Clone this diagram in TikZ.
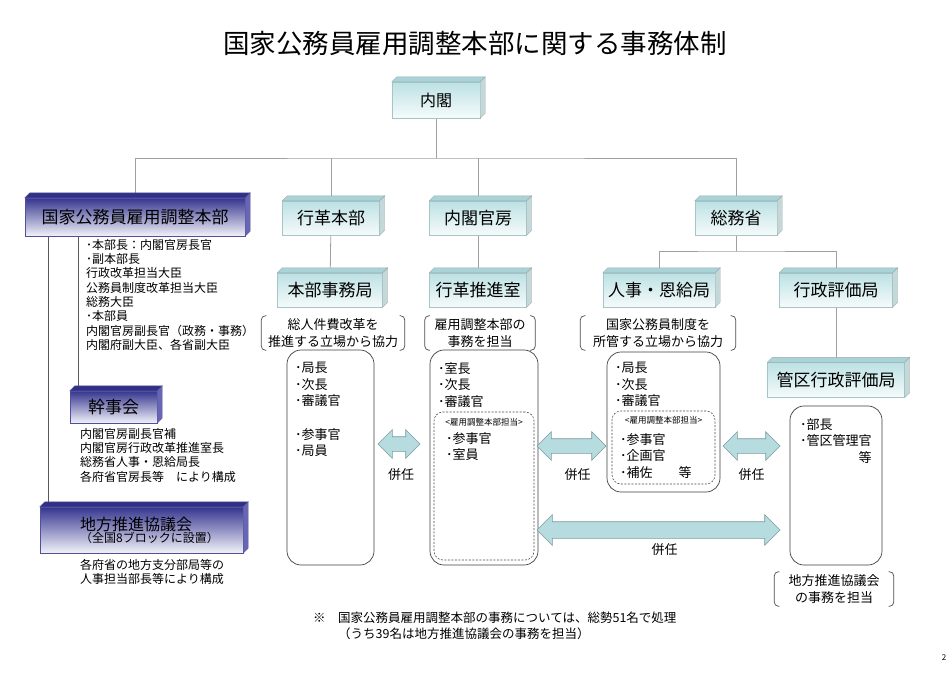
\documentclass[tikz,border=0pt]{standalone}
\usepackage{fontspec}
\setmainfont{Noto Sans CJK JP}
\usepackage{tikz}
\usetikzlibrary{positioning,backgrounds,shapes.arrows}

\definecolor{tealtop}{HTML}{BCE1E4}
\definecolor{tealbot}{HTML}{F6FBFB}
\definecolor{tealface}{HTML}{A9D3D7}
\definecolor{tealside}{HTML}{C4D8DA}
\definecolor{tealedge}{HTML}{A3C6C9}
\definecolor{navytop}{HTML}{35358F}
\definecolor{navybot}{HTML}{F2F2FA}
\definecolor{navyface}{HTML}{303088}
\definecolor{navyside}{HTML}{6666B5}
\definecolor{navyedge}{HTML}{5050A0}
\definecolor{arrowfill}{HTML}{B6DCDF}
\definecolor{arrowedge}{HTML}{7C9C9F}
\definecolor{treegray}{HTML}{A0A0A0}

\newcommand{\boxfaces}[3]{%
  \filldraw[draw=#3!80!black, fill=#2, line width=0.4pt] (#1.north west) -- ++(5,-5)
    -- ([shift={(5,-5)}]#1.north east) -- (#1.north east) -- cycle;
  \filldraw[draw=#3!80!black, fill=#3, line width=0.4pt] (#1.north east) -- ++(5,-5)
    -- ([shift={(5,-5)}]#1.south east) -- (#1.south east) -- cycle;}
\newcommand{\parens}[1]{%
  \draw[bracketline] ([xshift=5pt]#1.north west) -- (#1.north west) -- (#1.south west) -- ([xshift=5pt]#1.south west);
  \draw[bracketline] ([xshift=-5pt]#1.north east) -- (#1.north east) -- (#1.south east) -- ([xshift=-5pt]#1.south east);}

\tikzset{
  lightbox/.style={draw=tealedge, top color=tealtop, bottom color=tealbot, minimum height=34pt,
    inner sep=0pt, font=\fontsize{17}{20}\selectfont},
  darkbox/.style={draw=navyedge, top color=navytop, bottom color=navybot, inner sep=0pt,
    font=\fontsize{17}{20}\selectfont},
  treeline/.style={draw=treegray, line width=0.8pt},
  leftline/.style={draw=black!65, line width=0.8pt},
  bracketline/.style={draw=black!70, line width=0.7pt, rounded corners=4pt},
  bracketnote/.style={align=center, inner sep=0pt, minimum height=34pt, font=\fontsize{13}{17}\selectfont},
  staffbox/.style={draw=black!75, line width=0.7pt, rounded corners=14pt},
  subbox/.style={draw=black!70, line width=0.6pt, dash pattern=on 2pt off 1.5pt, rounded corners=9pt},
  stafftxt/.style={anchor=north west, align=left, inner sep=0pt, font=\fontsize{13}{16.5}\selectfont},
  smalltxt/.style={anchor=north west, align=left, inner sep=0pt, font=\fontsize{12}{14.3}\selectfont},
  tagtxt/.style={inner sep=0pt, font=\fontsize{8.5}{10}\selectfont},
  blockarrow/.style={double arrow, draw=arrowedge, fill=arrowfill, line width=0.6pt, inner sep=0pt,
    inner ysep=7pt, double arrow head extend=7pt, double arrow tip angle=90, minimum width=28pt},
  kennin/.style={inner sep=0pt, font=\fontsize{13}{15}\selectfont}
}

\begin{document}
\begin{tikzpicture}[x=1pt,y=-1pt]
\useasboundingbox (0,0) rectangle (950,672);

\node (title) at (475,43) {\fontsize{26.5}{30}\selectfont 国家公務員雇用調整本部に関する事務体制};

\node[lightbox, minimum width=88pt, minimum height=36pt, font=\fontsize{16}{19}\selectfont] (naikaku) at (436,100) {内閣};

\node[darkbox, minimum width=220pt, minimum height=38pt] (honbu) at (135,217) {国家公務員雇用調整本部};
\node[lightbox, minimum width=97pt] (gyokaku) at (331,218) {行革本部};
\node[lightbox, minimum width=97pt] (kanbo) at (478,218) {内閣官房};
\node[lightbox, minimum width=82pt] (somu) at (736,218) {総務省};

\node[lightbox, minimum width=105pt] (jimukyoku) at (330,290) {本部事務局};
\node[lightbox, minimum width=97pt] (suishin) at (478,290) {行革推進室};
\node[lightbox, minimum width=112pt] (jinji) at (659,290) {人事・恩給局};
\node[lightbox, minimum width=113pt] (hyoka) at (836,290) {行政評価局};
\node[lightbox, minimum width=137pt, minimum height=35pt] (kanku) at (836,380) {管区行政評価局};

\coordinate (bus) at (436,158);
\coordinate (bus2) at (736,251);

\begin{scope}[on background layer]
\fill[white] (0,0) rectangle (950,672);
\draw[treeline] (naikaku) -- (bus);
\draw[treeline] (honbu.north) |- (bus) -| (somu.north);
\draw[treeline] (jinji.north) |- (bus2) -| (hyoka.north);
\path[treeline] (gyokaku.north) edge (gyokaku.north |- bus)
                (kanbo.north) edge (kanbo.north |- bus)
                (somu) edge (bus2)
                (gyokaku) edge (jimukyoku)
                (kanbo) edge (suishin)
                (hyoka) edge (kanku);
\end{scope}

\boxfaces{naikaku}{tealface}{tealside}
\boxfaces{gyokaku}{tealface}{tealside}
\boxfaces{kanbo}{tealface}{tealside}
\boxfaces{somu}{tealface}{tealside}
\boxfaces{jimukyoku}{tealface}{tealside}
\boxfaces{suishin}{tealface}{tealside}
\boxfaces{jinji}{tealface}{tealside}
\boxfaces{hyoka}{tealface}{tealside}
\boxfaces{kanku}{tealface}{tealside}
\boxfaces{honbu}{navyface}{navyside}

\node[smalltxt] (honbulist) at (86,239) {･本部長：内閣官房長官\\ ･副本部長\\行政改革担当大臣\\公務員制度改革担当大臣\\総務大臣\\ ･本部員\\内閣官房副長官（政務・事務）\\内閣府副大臣、各省副大臣};

\node[darkbox, minimum width=87pt, minimum height=32pt] (kanjikai) at (113.5,407) {幹事会};
\boxfaces{kanjikai}{navyface}{navyside}
\node[smalltxt] (kanjikailist) at (80,428) {内閣官房副長官補\\内閣官房行政改革推進室長\\総務省人事・恩給局長\\各府省官房長等　により構成};

\node[darkbox, minimum width=203pt, minimum height=46pt] (chiho) at (141.5,530) {};
\boxfaces{chiho}{navyface}{navyside}
\node[anchor=west, align=left, inner sep=0pt] (chihoname) at (80,530) {{\fontsize{16}{19}\selectfont 地方推進協議会}\\{\fontsize{12}{14}\selectfont （全国8ブロックに設置）}};
\node[smalltxt] (chiholist) at (80,559) {各府省の地方支分部局等の\\人事担当部長等により構成};

\begin{scope}[on background layer]
\path[leftline] ([xshift=9pt]kanjikai.north west) edge ([xshift=9pt]kanjikai.north west |- honbu.south)
                ([xshift=9pt]chiho.north west) edge ([xshift=9pt]chiho.north west |- honbu.south);
\end{scope}

\node[bracketnote, minimum width=143pt] (noteA) at (333,333) {総人件費改革を\\推進する立場から協力};
\node[bracketnote, minimum width=110pt] (noteB) at (480,333) {雇用調整本部の\\事務を担当};
\node[bracketnote, minimum width=155pt] (noteC) at (658,333) {国家公務員制度を\\所管する立場から協力};
\node[bracketnote, minimum width=119pt] (noteD) at (834,589) {地方推進協議会\\の事務を担当};
\parens{noteA}
\parens{noteB}
\parens{noteC}
\parens{noteD}

\node[staffbox, minimum width=87pt, minimum height=215pt] (staffA) at (330.5,457.5) {};
\node[staffbox, minimum width=108pt, minimum height=215pt] (staffB) at (484,457.5) {};
\node[staffbox, minimum width=113pt, minimum height=140pt] (staffC) at (663.5,422) {};
\node[staffbox, minimum width=92pt, minimum height=159pt] (staffD) at (836,485.5) {};
\node[subbox, minimum width=100pt, minimum height=148pt] (subB) at (484,486) {};
\node[subbox, minimum width=103pt, minimum height=73pt] (subC) at (663.5,447.5) {};

\node[stafftxt] (listA) at (295,362) {･局長\\･次長\\･審議官\\[17pt]･参事官\\･局員};
\node[stafftxt] (listB) at (438,362) {･室長\\･次長\\･審議官};
\node[tagtxt] (tagB) at (484,422) {<雇用調整本部担当>};
\node[stafftxt] (subBlist) at (446,432) {･参事官\\･室員};
\node[stafftxt] (listC) at (615,362) {･局長\\･次長\\･審議官};
\node[tagtxt] (tagC) at (663.5,420) {<雇用調整本部担当>};
\node[stafftxt] (subClist) at (620,433) {･参事官\\･企画官\\･補佐　　等};
\node[stafftxt] (listD) at (800,418) {･部長\\･管区管理官\\\hspace*{4.5em}等};

\node[blockarrow, minimum height=42pt] (arrAB) at (399,444) {};
\node[blockarrow, minimum height=69pt] (arrBC) at (571.5,446) {};
\node[blockarrow, minimum height=57pt] (arrCD) at (751.5,446) {};
\node[blockarrow, minimum height=243pt, minimum width=30pt, inner ysep=8pt] (arrlong) at (658.5,530) {};
\node[kennin, below=17pt of arrAB, xshift=2pt] (kenninAB) {併任};
\node[kennin, below=15pt of arrBC, xshift=6pt] (kenninBC) {併任};
\node[kennin, below=15pt of arrCD] (kenninCD) {併任};
\node[kennin, below=5pt of arrlong, xshift=6pt] (kenninlong) {併任};

\node[anchor=west, align=left, inner sep=0pt, font=\fontsize{12.5}{16}\selectfont] (footnote) at (313,626) {※　国家公務員雇用調整本部の事務については、総勢51名で処理\\\phantom{※　}（うち39名は地方推進協議会の事務を担当）};
\node[inner sep=0pt, font=\fontsize{8}{9}\selectfont] (pageno) at (944,658) {2};
\end{tikzpicture}
\end{document}
